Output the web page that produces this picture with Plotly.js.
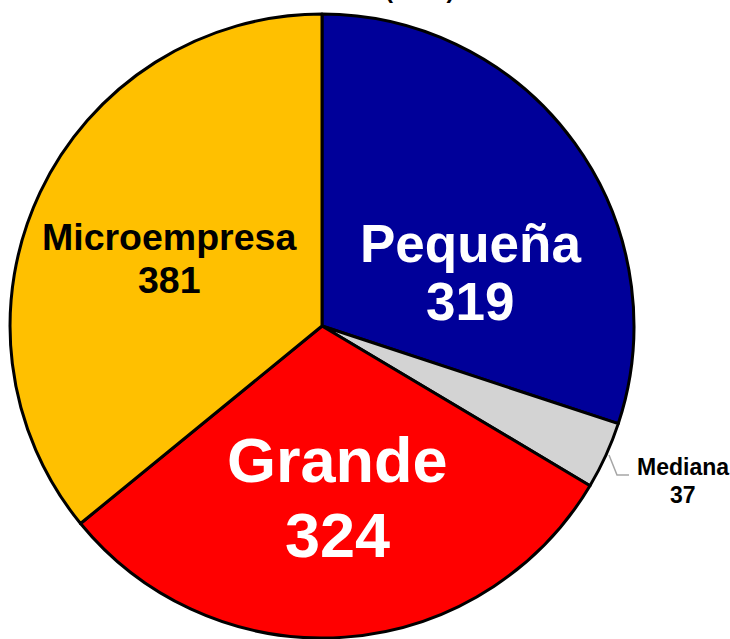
<!DOCTYPE html>
<html>
<head>
<meta charset="utf-8">
<script src="https://cdn.plot.ly/plotly-3.0.1.min.js"></script>
<style>
  html, body { margin: 0; padding: 0; background: #fff; }
  #chart { width: 730px; height: 639px; }
</style>
</head>
<body>
<div id="chart"></div>
<script>
var labels = ['Pequeña', 'Mediana', 'Grande', 'Microempresa'];
var values = [319, 37, 324, 381];
var sliceColors = ['#000099', '#D3D3D3', '#FF0000', '#FFC000'];
var textColors = ['#FFFFFF', '#000000', '#FFFFFF', '#000000'];
var textSizes = [53, 23, 63, 37.5];

// label block placement in pixels: [x centre, first line middle, second line middle]
var labelPos = [[470, 244, 301], [683, 467, 495], [337, 460, 535], [169, 237, 280]];

var W = 730, H = 639;
var FONT = 'Liberation Sans, Arial, sans-serif';

function main(){
	var data = [{
	  type: 'pie',
	  labels: labels,
	  values: values,
	  sort: false,
	  direction: 'clockwise',
	  rotation: 0,
	  marker: {
	    colors: sliceColors,
	    line: {color: '#000000', width: 3}
	  },
	  textinfo: 'none',
	  hoverinfo: 'none',
	  showlegend: false,
	  domain: {x: [0.0137, 0.8685], y: [0.0016, 0.978]}
	}];

	var annotations = [];
	for (var i = 0; i < labels.length; i++) {
	  var p = labelPos[i];
	  [labels[i], String(values[i])].forEach(function(t, k){
	    annotations.push({
	      text: '<b>' + t + '</b>',
	      xref: 'paper', yref: 'paper',
	      x: p[0] / W, y: 1 - p[k + 1] / H,
	      xanchor: 'center', yanchor: 'middle',
	      showarrow: false,
	      font: {family: FONT, size: textSizes[i], color: textColors[i]}
	    });
	  });
	}
	// second title line, mostly cut off at the top edge
	annotations.push({
	  text: '<b>(2009)</b>',
	  xref: 'paper', yref: 'paper',
	  x: 0.574, y: 0.992,
	  xanchor: 'center', yanchor: 'bottom',
	  showarrow: false,
	  font: {family: FONT, size: 24, color: '#000000'}
	});

	var layout = {
	  width: W,
	  height: H,
	  margin: {l: 0, r: 0, t: 0, b: 0},
	  paper_bgcolor: '#ffffff',
	  showlegend: false,
	  annotations: annotations,
	  shapes: [{
	    // leader line for the small slice
	    type: 'path', xref: 'paper', yref: 'paper',
	    path: 'M ' + (609 / W) + ' ' + (1 - 455 / H) + ' L ' + (617 / W) + ' ' + (1 - 475 / H) + ' L ' + (629 / W) + ' ' + (1 - 475 / H),
	    line: {color: '#A6A6A6', width: 1.5}
	  }]
	};

	Plotly.newPlot('chart', data, layout, {staticPlot: true, displayModeBar: false});
}
main();
</script>
</body>
</html>
